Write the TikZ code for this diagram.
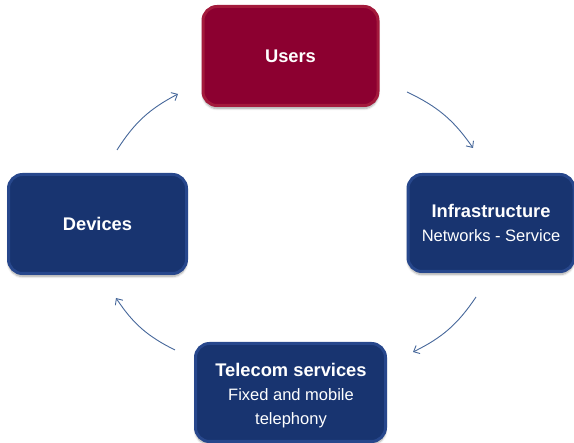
\documentclass[tikz,border=0pt]{standalone}
\usepackage{fontspec}
\setmainfont{Liberation Sans}
\usetikzlibrary{arrows.meta,shadows.blur}
\definecolor{redfill}{HTML}{8C0030}
\definecolor{rededge}{HTML}{A31A3C}
\definecolor{bluefill}{HTML}{183470}
\definecolor{blueedge}{HTML}{27478C}
\definecolor{arrowcol}{HTML}{46679A}
\newcommand{\boxtitle}[1]{{\fontsize{18.3}{24}\selectfont\bfseries #1}}
\begin{document}
\begin{tikzpicture}[x=1pt,y=1pt,
  box/.style={rectangle, rounded corners=14pt, line width=3pt, text=white,
    align=center, inner sep=0pt, font=\fontsize{16.5}{24}\selectfont,
    blur shadow={shadow xshift=0pt, shadow yshift=-3pt, shadow blur steps=6, shadow opacity=35}},
  bluebox/.style={box, fill=bluefill, draw=blueedge},
  redbox/.style={box, fill=redfill, draw=rededge},
  boxtext/.style={text=white, align=center, inner sep=0pt, font=\fontsize{16.5}{24}\selectfont},
  cyc/.style={draw=arrowcol, line width=0.9pt, -{Straight Barb[length=5pt,width=9pt]}},
]
\useasboundingbox (0,0) rectangle (574,-443);
\node[redbox, minimum width=175, minimum height=99] (users) at (290.5,-56)
  {\boxtitle{Users}};
\node[bluebox, minimum width=166, minimum height=97] (infra) at (491,-223)
  {\boxtitle{Infrastructure}\\Networks - Service};
\node[bluebox, minimum width=190, minimum height=98] (telecom) at (290.5,-392.5) {};
\node[boxtext] (telecomtext) at (291,-395.5)
  {\boxtitle{Telecom services}\\Fixed and mobile\\telephony};
\node[bluebox, minimum width=178, minimum height=99] (devices) at (97.5,-224)
  {\boxtitle{Devices}};
\coordinate (a1) at (117,-150);
\coordinate (a2) at (178,-94);
\coordinate (b1) at (407,-92);
\coordinate (b2) at (473,-148);
\coordinate (c1) at (476,-297);
\coordinate (c2) at (413,-352);
\coordinate (d1) at (175,-350);
\coordinate (d2) at (116,-298);
\draw[cyc] (a1) to[bend left=15] (a2);
\draw[cyc] (b1) to[bend left=15] (b2);
\draw[cyc] (c1) to[bend left=15] (c2);
\draw[cyc] (d1) to[bend left=15] (d2);
\end{tikzpicture}
\end{document}
